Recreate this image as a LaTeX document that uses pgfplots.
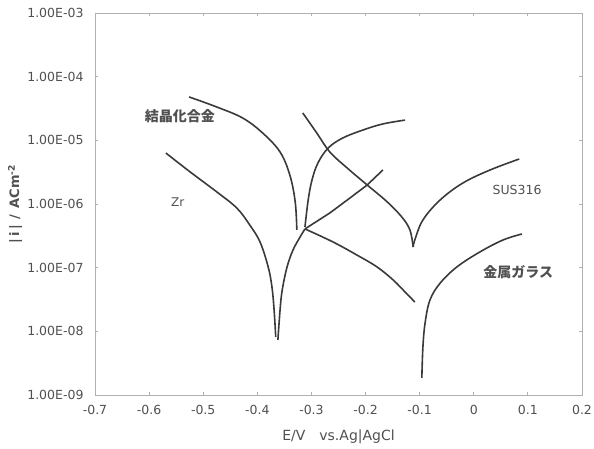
\documentclass[border=0pt]{standalone}
\usepackage{pgfplots}
\pgfplotsset{compat=1.18}
\usepackage{fontspec}
\setmainfont{DejaVu Sans}
\newfontfamily\jp{Noto Sans CJK JP}
\definecolor{curve}{HTML}{3A3A3A}
\definecolor{txt}{HTML}{505050}
\definecolor{frame}{HTML}{B0B0B0}
\pgfplotsset{branch/.style={curve, line width=1.6pt, no markers, smooth, tension=0.6}}

\begin{document}
\begin{tikzpicture}
\useasboundingbox (-95pt,-54pt) rectangle (499pt,395pt);
\begin{axis}[
  at={(0pt,0pt)}, anchor=south west,
  scale only axis, width=487pt, height=382pt,
  xmin=-0.7, xmax=0.2,
  ymode=log, ymin=1e-9, ymax=1e-3,
  xtick={-0.7,-0.6,-0.5,-0.4,-0.3,-0.2,-0.1,0,0.1,0.2},
  xticklabels={-0.7,-0.6,-0.5,-0.4,-0.3,-0.2,-0.1,0,0.1,0.2},
  ytick={1e-9,1e-8,1e-7,1e-6,1e-5,1e-4,1e-3},
  yticklabels={1.00E-09,1.00E-08,1.00E-07,1.00E-06,1.00E-05,1.00E-04,1.00E-03},
  yminorticks=false,
  tick align=inside, major tick length=3pt,
  axis line style={frame, line width=0.8pt},
  tick style={frame, line width=0.8pt},
  ticklabel style={font=\fontsize{12.5}{14}\selectfont, text=txt},
  xticklabel style={yshift=-7pt},
  yticklabel style={xshift=-8pt},
  xlabel={E/V\quad vs.Ag|AgCl},
  ylabel={\bfseries|\,i\,|\;\,/\;\,ACm\textsuperscript{-2}},
  xlabel style={at={(axis description cs:0.5,-0.110)}, anchor=center,
    font=\fontsize{14}{16}\selectfont, text=txt},
  ylabel style={at={(axis description cs:-0.164,0.5)}, anchor=center,
    font=\fontsize{13}{15}\selectfont, text=txt},
]
% crystalline alloy: cathodic and anodic branches
\addplot[branch] coordinates {
  (-0.526,4.80e-5) (-0.475,3.34e-5) (-0.427,2.24e-5) (-0.390,1.30e-5)
  (-0.358,6.56e-6) (-0.340,2.86e-6) (-0.330,1.08e-6) (-0.327,3.91e-7)};
\addplot[branch] coordinates {
  (-0.312,4.35e-7) (-0.306,1.16e-6) (-0.299,2.38e-6) (-0.288,4.41e-6)
  (-0.269,7.59e-6) (-0.242,1.09e-5) (-0.205,1.45e-5) (-0.168,1.81e-5) (-0.127,2.08e-5)};
% Zr
\addplot[branch] coordinates {
  (-0.569,6.32e-6) (-0.524,3.18e-6) (-0.475,1.55e-6) (-0.438,8.65e-7)
  (-0.414,4.68e-7) (-0.395,2.53e-7) (-0.380,1.03e-7) (-0.373,4.98e-8) (-0.369,2.16e-8) (-0.366,8.15e-9)};
\addplot[branch] coordinates {
  (-0.362,7.31e-9) (-0.358,2.16e-8) (-0.354,4.46e-8) (-0.345,1.03e-7)
  (-0.334,1.90e-7) (-0.321,3.03e-7) (-0.312,4.06e-7)};
\addplot[branch, sharp plot] coordinates {
  (-0.312,4.06e-7) (-0.266,7.23e-7) (-0.229,1.24e-6) (-0.197,1.99e-6) (-0.168,3.42e-6)};
% metallic glass
\addplot[branch] coordinates {
  (-0.312,4.06e-7) (-0.260,2.53e-7) (-0.216,1.58e-7) (-0.179,1.03e-7)
  (-0.149,6.41e-8) (-0.127,4.15e-8) (-0.109,2.89e-8)};
\addplot[branch] coordinates {
  (-0.096,1.85e-9) (-0.094,5.68e-9) (-0.090,1.35e-8) (-0.081,3.10e-8)
  (-0.062,5.74e-8) (-0.031,1.03e-7) (0.011,1.76e-7) (0.054,2.72e-7) (0.089,3.38e-7)};
% SUS316
\addplot[branch] coordinates {
  (-0.316,2.69e-5) (-0.290,1.30e-5) (-0.266,6.56e-6) (-0.234,3.68e-6)
  (-0.197,1.99e-6) (-0.160,1.08e-6) (-0.133,6.25e-7) (-0.118,3.91e-7) (-0.112,2.11e-7)};
\addplot[branch] coordinates {
  (-0.112,2.11e-7) (-0.109,2.72e-7) (-0.094,5.61e-7) (-0.062,1.16e-6)
  (-0.020,2.14e-6) (0.030,3.42e-6) (0.084,5.09e-6)};

\node[text=txt, font=\jp\bfseries\fontsize{14}{16}\selectfont] at (axis cs:-0.543,2.41e-5) {結晶化合金};
\node[text=txt, font=\fontsize{12}{14}\selectfont] at (axis cs:-0.547,1.08e-6) {Zr};
\node[text=txt, font=\fontsize{12.5}{14}\selectfont] at (axis cs:0.080,1.66e-6) {SUS316};
\node[text=txt, font=\jp\bfseries\fontsize{14}{16}\selectfont] at (axis cs:0.082,8.55e-8) {金属ガラス};
\end{axis}
\end{tikzpicture}
\end{document}
